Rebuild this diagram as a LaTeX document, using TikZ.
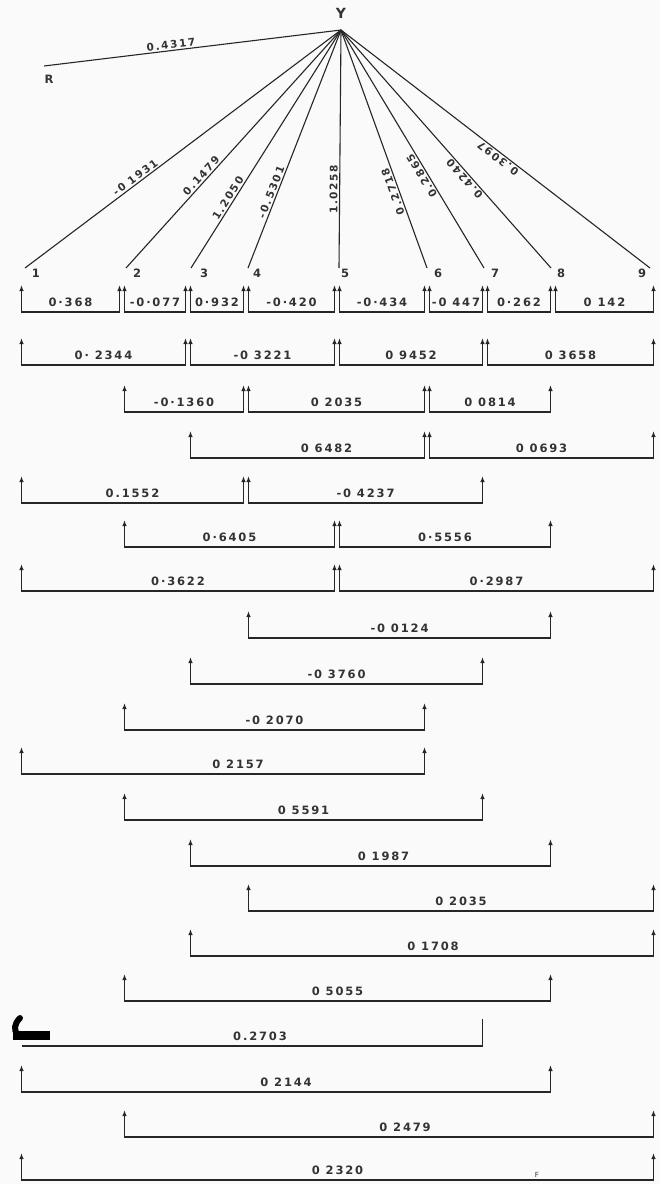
\documentclass[tikz,border=0pt]{standalone}
\usepackage{fontspec}
\setmainfont{DejaVu Sans}
\newfontfamily\handfont[LetterSpace=16]{DejaVu Sans}
\usepackage{tikz}
\usetikzlibrary{arrows.meta,positioning,calc}

\begin{document}
\begin{tikzpicture}[
    x=1pt, y=-1pt,
    >={Latex[length=6pt,width=4.5pt]},
    ink/.style={draw=black!85, line width=1.4pt},
    ray/.style={ink, line width=1.1pt},
    bar/.style={ink, <->},
    val/.style={font=\handfont\bfseries\fontsize{11.5}{13}\selectfont, text=black!80, above=4pt, inner sep=1pt, pos=0.75},
    rayval/.style={font=\handfont\bfseries\fontsize{10.5}{12}\selectfont, text=black!80, sloped, allow upside down, above, inner sep=1.5pt},
    pt/.style={font=\handfont\bfseries\fontsize{11.5}{13}\selectfont, text=black!80, inner sep=0pt}
]
\fill[black!2] (0,0) rectangle (660,1184);
\useasboundingbox (0,0) rectangle (660,1184);

% Apex and reference line
\coordinate (apex) at (341,30);
\node[pt, font=\handfont\bfseries\fontsize{14}{16}\selectfont] (Y) at (341,13) {Y};
\coordinate (r) at (44,66);
\node[pt] (R) at (49,79) {R};
\draw[ray] (r) -- node[rayval, pos=0.43] {0.4317} (apex);

% Fan ends and numbers
\foreach \n/\x in {1/25,2/126,3/191,4/248,5/339,6/427,7/484,8/551,9/650}
    \coordinate (f\n) at (\x,268);
\foreach \n/\x in {1/36,2/137,3/204,4/257,5/345,6/438,7/495,8/561,9/642}
    \node[pt] (n\n) at (\x,273) {\n};

% Fan lines
\draw[ray] (f1) -- node[rayval, pos=0.36] {-0 1931} (apex);
\draw[ray] (f2) -- node[rayval, pos=0.37] {0.1479} (apex);
\draw[ray] (f3) -- node[rayval, pos=0.28] {1.2050} (apex);
\draw[ray] (f4) -- node[rayval, pos=0.31] {-0.5301} (apex);
\draw[ray] (f5) -- node[rayval, pos=0.33] {1.0258} (apex);
\draw[ray] (f6) -- node[rayval, pos=0.33] {0.2718} (apex);
\draw[ray] (f7) -- node[rayval, pos=0.40] {0.2865} (apex);
\draw[ray] (f8) -- node[rayval, pos=0.39] {0.4240} (apex);
\draw[ray] (f9) -- node[rayval, pos=0.48] {0.3097} (apex);

% Columns (a = left end of a span, z = right end) and rows (t = arrow top, b = base)
\foreach \n/\x in {1/19,2/122,3/188,4/246,5/337,6/427,7/485,8/553,9/656} {
    \coordinate (a\n) at (\x+2.5,0);
    \coordinate (z\n) at (\x-2.5,0);
}
\foreach \r/\y in {1/312,2/365,3/412,4/458,5/503,6/547,7/591,8/638,9/684,10/730,
                   11/774,12/820,13/866,14/911,15/956,16/1001,17/1046,18/1092,19/1137,20/1180} {
    \coordinate (b\r) at (0,\y);
    \coordinate (t\r) at (0,\y-27);
}

% Row 1
\draw[bar] (a1|-t1) |- node[val] {0·368} (z2|-b1) -- (z2|-t1);
\draw[bar] (a2|-t1) |- node[val] {-0·077} (z3|-b1) -- (z3|-t1);
\draw[bar] (a3|-t1) |- node[val] {0·932} (z4|-b1) -- (z4|-t1);
\draw[bar] (a4|-t1) |- node[val] {-0·420} (z5|-b1) -- (z5|-t1);
\draw[bar] (a5|-t1) |- node[val] {-0·434} (z6|-b1) -- (z6|-t1);
\draw[bar] (a6|-t1) |- node[val] {-0 447} (z7|-b1) -- (z7|-t1);
\draw[bar] (a7|-t1) |- node[val] {0·262} (z8|-b1) -- (z8|-t1);
\draw[bar] (a8|-t1) |- node[val] {0 142} (z9|-b1) -- (z9|-t1);

% Row 2
\draw[bar] (a1|-t2) |- node[val] {0· 2344} (z3|-b2) -- (z3|-t2);
\draw[bar] (a3|-t2) |- node[val] {-0 3221} (z5|-b2) -- (z5|-t2);
\draw[bar] (a5|-t2) |- node[val] {0 9452} (z7|-b2) -- (z7|-t2);
\draw[bar] (a7|-t2) |- node[val] {0 3658} (z9|-b2) -- (z9|-t2);

% Row 3
\draw[bar] (a2|-t3) |- node[val] {-0·1360} (z4|-b3) -- (z4|-t3);
\draw[bar] (a4|-t3) |- node[val] {0 2035} (z6|-b3) -- (z6|-t3);
\draw[bar] (a6|-t3) |- node[val] {0 0814} (z8|-b3) -- (z8|-t3);

% Row 4
\draw[bar] (a3|-t4) |- node[val, xshift=19pt] {0 6482} (z6|-b4) -- (z6|-t4);
\draw[bar] (a6|-t4) |- node[val] {0 0693} (z9|-b4) -- (z9|-t4);

% Row 5
\draw[bar] (a1|-t5) |- node[val] {0.1552} (z4|-b5) -- (z4|-t5);
\draw[bar] (a4|-t5) |- node[val] {-0 4237} (z7|-b5) -- (z7|-t5);

% Row 6
\draw[bar] (a2|-t6) |- node[val] {0·6405} (z5|-b6) -- (z5|-t6);
\draw[bar] (a5|-t6) |- node[val] {0·5556} (z8|-b6) -- (z8|-t6);

% Row 7
\draw[bar] (a1|-t7) |- node[val] {0·3622} (z5|-b7) -- (z5|-t7);
\draw[bar] (a5|-t7) |- node[val] {0·2987} (z9|-b7) -- (z9|-t7);

% Single spans
\draw[bar] (a4|-t8) |- node[val] {-0 0124} (z8|-b8) -- (z8|-t8);
\draw[bar] (a3|-t9) |- node[val] {-0 3760} (z7|-b9) -- (z7|-t9);
\draw[bar] (a2|-t10) |- node[val] {-0 2070} (z6|-b10) -- (z6|-t10);
\draw[bar] (a1|-t11) |- node[val, xshift=15pt] {0 2157} (z6|-b11) -- (z6|-t11);
\draw[bar] (a2|-t12) |- node[val] {0 5591} (z7|-b12) -- (z7|-t12);
\draw[bar] (a3|-t13) |- node[val, xshift=13pt] {0 1987} (z8|-b13) -- (z8|-t13);
\draw[bar] (a4|-t14) |- node[val, xshift=10pt] {0 2035} (z9|-b14) -- (z9|-t14);
\draw[bar] (a3|-t15) |- node[val, xshift=11pt] {0 1708} (z9|-b15) -- (z9|-t15);
\draw[bar] (a2|-t16) |- node[val] {0 5055} (z8|-b16) -- (z8|-t16);
\draw[ink] (a1|-b17) -- node[val, pos=0.5, xshift=8pt] {0.2703} (z7|-b17) -- (z7|-t17);
\draw[bar] (a1|-t18) |- node[val] {0 2144} (z8|-b18) -- (z8|-t18);
\draw[bar] (a2|-t19) |- node[val, xshift=16pt] {0 2479} (z9|-b19) -- (z9|-t19);
\draw[bar] (a1|-t20) |- node[val] {0 2320} (z9|-b20) -- (z9|-t20);
\node[pt, font=\handfont\fontsize{7}{8}\selectfont] (F) at (537,1175) {F};

% Blot on row 17
\fill[black] (13,1031) rectangle (50,1040);
\draw[line width=6pt, line cap=round] (20,1018) .. controls (14,1024) and (14,1030) .. (17,1034);
\end{tikzpicture}
\end{document}
